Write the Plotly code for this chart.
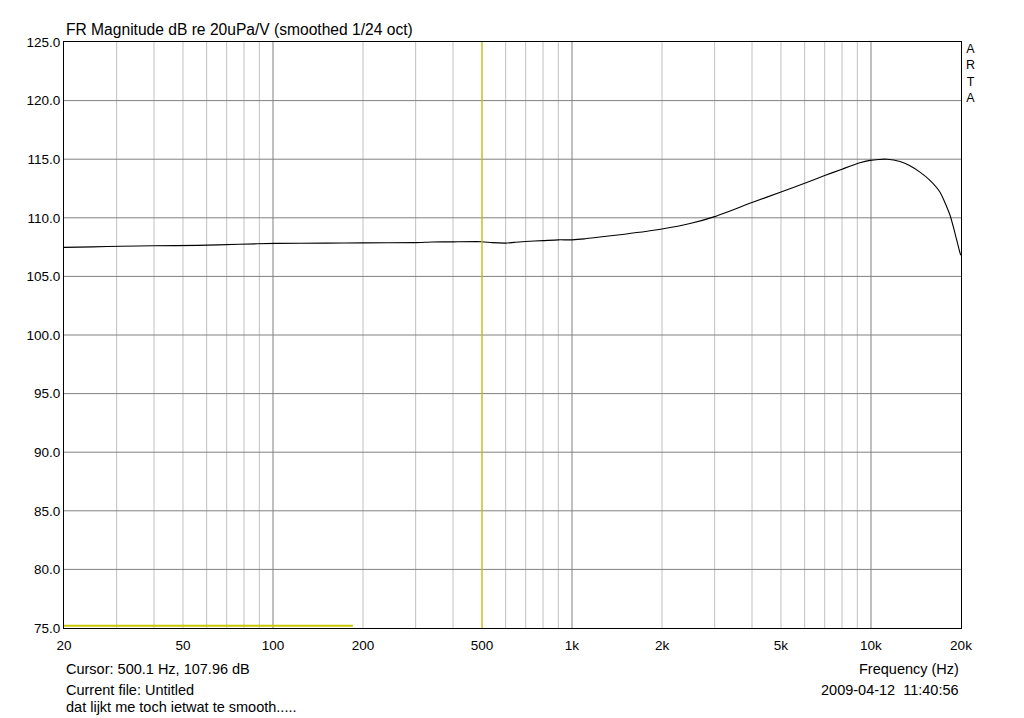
import plotly.graph_objects as go

# Frequency response
freq_hz = [20, 25, 31, 40, 56, 77, 102, 150, 200, 300, 340, 400, 500, 540, 600, 640,
           700, 800, 900, 1000, 1100, 1200, 1500, 2000, 2500, 3000, 4000, 5000, 6000,
           7000, 8000, 9185, 9930, 10600, 11320, 12500, 13500, 14580, 15750, 17000,
           18370, 19090, 19850, 20000]
mag_db = [107.48, 107.52, 107.57, 107.61, 107.65, 107.74, 107.82, 107.84, 107.86, 107.88,
          107.93, 107.95, 107.96, 107.88, 107.84, 107.9,
          107.98, 108.05, 108.12, 108.12, 108.2, 108.32, 108.6, 109.04, 109.53, 110.1,
          111.3, 112.2, 112.95, 113.6, 114.15, 114.7, 114.9, 114.98, 115.0, 114.8, 114.45,
          113.9, 113.2, 112.2, 110.24, 108.7, 107.0, 106.8]

x_tick_vals = [20, 50, 100, 200, 500, 1000, 2000, 5000, 10000, 20000]
x_tick_text = ["20", "50", "100", "200", "500", "1k", "2k", "5k", "10k", "20k"]
minor_grid = [30, 40, 50, 60, 70, 80, 90, 200, 300, 400, 500, 600, 700, 800, 900,
              2000, 3000, 4000, 5000, 6000, 7000, 8000, 9000]
decade_grid = [100, 1000, 10000]
y_tick_vals = [75, 80, 85, 90, 95, 100, 105, 110, 115, 120, 125]
y_tick_text = ["%.1f" % v for v in y_tick_vals]

cursor_freq = 500
cursor_bar_x = [20, 185]
cursor_bar_y = 75.2

font = "Liberation Sans, Arial, sans-serif"
txt = 14.5

fig = go.Figure()
fig.add_trace(go.Scatter(x=freq_hz, y=mag_db, mode="lines",
                         line=dict(color="black", width=1.1, shape="spline", smoothing=0.6),
                         hoverinfo="skip", showlegend=False))

shapes = []
for f in minor_grid:
    shapes.append(dict(type="line", xref="x", yref="paper", x0=f, x1=f, y0=0, y1=1,
                       line=dict(color="#c0c0c0", width=1), layer="below"))
for f in decade_grid:
    shapes.append(dict(type="line", xref="x", yref="paper", x0=f, x1=f, y0=0, y1=1,
                       line=dict(color="#808080", width=1), layer="below"))
for v in y_tick_vals[1:-1]:
    shapes.append(dict(type="line", xref="paper", yref="y", x0=0, x1=1, y0=v, y1=v,
                       line=dict(color="#808080", width=1), layer="below"))
shapes.append(dict(type="line", xref="x", yref="paper", x0=cursor_freq, x1=cursor_freq,
                   y0=0, y1=1, line=dict(color="#c8c800", width=1.2), layer="above"))
shapes.append(dict(type="line", xref="x", yref="y", x0=cursor_bar_x[0], x1=cursor_bar_x[1],
                   y0=cursor_bar_y, y1=cursor_bar_y, line=dict(color="#c8c800", width=2),
                   layer="above"))

annotations = [
    dict(text="FR Magnitude dB re 20uPa/V (smoothed 1/24 oct)", xref="paper", yref="paper",
         x=0.0, y=1.0, yshift=2, xanchor="left", yanchor="bottom", showarrow=False,
         font=dict(size=15.6, color="black", family=font)),
    dict(text="A<br>R<br>T<br>A", xref="paper", yref="paper", x=1.0, xshift=3, y=1.0,
         yshift=2, xanchor="left", yanchor="top", showarrow=False, align="center",
         font=dict(size=12.5, color="black", family=font)),
    dict(text="Cursor: 500.1 Hz, 107.96 dB", xref="paper", yref="paper", x=0, y=0,
         yshift=-31, xanchor="left", yanchor="top", showarrow=False,
         font=dict(size=txt, color="black", family=font)),
    dict(text="Current file: Untitled", xref="paper", yref="paper", x=0, y=0,
         yshift=-52, xanchor="left", yanchor="top", showarrow=False,
         font=dict(size=txt, color="black", family=font)),
    dict(text="dat lijkt me toch ietwat te smooth.....", xref="paper", yref="paper", x=0, y=0,
         yshift=-69, xanchor="left", yanchor="top", showarrow=False,
         font=dict(size=txt, color="black", family=font)),
    dict(text="Frequency (Hz)", xref="paper", yref="paper", x=1, y=0,
         yshift=-31, xanchor="right", yanchor="top", showarrow=False,
         font=dict(size=txt, color="black", family=font)),
    dict(text="2009-04-12  11:40:56", xref="paper", yref="paper", x=1, y=0,
         yshift=-52, xanchor="right", yanchor="top", showarrow=False,
         font=dict(size=txt, color="black", family=font)),
]

fig.update_layout(
    width=1024, height=718,
    margin=dict(l=64, r=63, t=42, b=90),
    paper_bgcolor="white", plot_bgcolor="white",
    font=dict(family=font, size=13, color="black"),
    shapes=shapes, annotations=annotations,
    xaxis=dict(type="log", range=[1.30103, 4.30103], tickvals=x_tick_vals,
               ticktext=x_tick_text, showgrid=False, zeroline=False, showline=True,
               linecolor="black", linewidth=1, mirror=True, ticks="",
               ticklabelstandoff=5,
               tickfont=dict(size=13.5, family=font, color="black")),
    yaxis=dict(range=[75, 125], tickvals=y_tick_vals, ticktext=y_tick_text,
               showgrid=False, zeroline=False, showline=True, linecolor="black",
               linewidth=1, mirror=True, ticks="",
               tickfont=dict(size=13.5, family=font, color="black")),
)

fig.write_html("out.html")
